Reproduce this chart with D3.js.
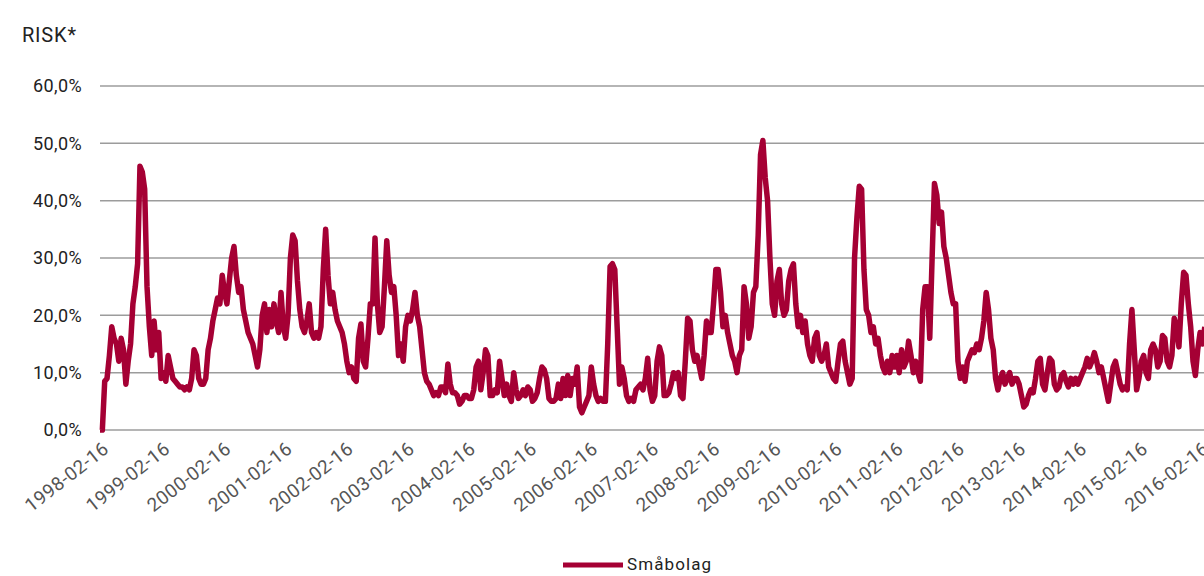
<!DOCTYPE html>
<html><head><meta charset="utf-8">
<script src="https://cdn.jsdelivr.net/npm/d3@7/dist/d3.min.js"></script>
<style>
body{margin:0;background:#fff;}
svg{display:block;font-family:Roboto,"Noto Sans",sans-serif;}
</style>
</head><body>
<svg id="chart" width="1204" height="576"></svg>
<script>
// ---- data (biweekly readings) ----
const seriesName = "Småbolag";
const yAxisTitle = "RISK*";
const startDate = "1998-02-16";
const pointsPerYear = 26;
const yTickValues = [0, 10, 20, 30, 40, 50, 60];
const xTickLabels = ["1998-02-16","1999-02-16","2000-02-16","2001-02-16","2002-02-16","2003-02-16",
  "2004-02-16","2005-02-16","2006-02-16","2007-02-16","2008-02-16","2009-02-16","2010-02-16",
  "2011-02-16","2012-02-16","2013-02-16","2014-02-16","2015-02-16","2016-02-16"];

const risk1998 = [0,0,8.5,9,13,18,16,15,12,16,14,8,12,15,22,25,29,46,45,42,25,18,13,19,14,17];
const risk1999 = [9,10,8.5,13,11,9,8.5,8,7.5,7.5,7,7.5,7,9,14,13,9,8,8,9,14,16,19,21,23,22];
const risk2000 = [27,24,22,26,30,32,27,24,25,21,19,17,16,15,13,11,14,20,22,17,21,18,22,19,17,24];
const risk2001 = [18,16,20,30,34,33,26,21,18,17,19,22,17,16,17,16,18,28,35,27,22,24,21,19,18,17];
const risk2002 = [15,12,10,11,9,8.5,16,18.5,12,11,16,22,22,33.5,22,17,18,25,33,27,24,25,20,13,15,12];
const risk2003 = [18,20,19,21,24,20,18,14,10,8.5,8,7,6,6.5,6,7.5,7.5,6.5,11.5,8,6.5,6.5,6,4.5,5,6];
const risk2004 = [6,5.5,5.5,7,11,12,7,10,14,13,6,6,7,6.5,12,9,6,8,6,5,10,7,5.5,6,7,6];
const risk2005 = [7.5,7,5,5.5,6.5,9,11,10.5,9,5.5,5,5,5.5,8,5.5,9,6,9.5,6,9,8,11,4,3,4,5];
const risk2006 = [6,11,8,6,5,5.5,5,5,15,28.5,29,28,18,8,11,9,6,5,5.5,5,7,7.5,8,7,9,12.5];
const risk2007 = [7,5,6,12,14.5,13,6,6,6.5,8,10,9,10,6,5.5,12,19.5,19,14,12,13,11,9,13,19,17];
const risk2008 = [17,22,28,28,24,18,20,17,15,13,12,10,13,14,25,22,16,18,24,25,34,48,50.5,44,40,30];
const risk2009 = [22,20,26,28,22,20,21,26,28,29,22,18,20,17,19,15,13,12,16,17,13,12,13,15,11,10];
const risk2010 = [9,8.5,12,15,15.5,12,10,8,9,30,37,42.5,42,28,21,20,17,18,15,16,13,11,10,12,10,13];
const risk2011 = [11,13,10,14,11,12,15.5,13,10,12,10,8.5,21,25,25,16,30,43,41,36,38,32,30,27,24,22];
const risk2012 = [22,12,9,11,8.5,12,13,14,13.5,15,14,16,19,24,21,16,14,9,7,9,10,8,9,10,8,9];
const risk2013 = [9,8,6,4,4.5,6,7,6.5,9,12,12.5,8,7,10,12.5,12,8,7,7.5,9.5,10,8.5,7.5,9,8,9];
const risk2014 = [8,9,10,11,12.5,11,12,13.5,12,10,11,9,7,5,8,11,12,10,8,7,7.5,7,15,21,14,7];
const risk2015 = [9,12,13,10,9,14,15,14,11,12,16.5,16,12,11,13,19.5,18,14.5,22,27.5,27,22,18,12,9.5,14];
const risk2016 = [17,15,18];

const riskValues = [].concat(risk1998,risk1999,risk2000,risk2001,risk2002,risk2003,risk2004,
  risk2005,risk2006,risk2007,risk2008,risk2009,risk2010,risk2011,risk2012,risk2013,risk2014,
  risk2015,risk2016);

// ---- chart ----
(function () {
const svg = d3.select("#chart");
const parse = d3.timeParse("%Y-%m-%d");
const t0 = parse(startDate);
const stepMs = 365.25 / pointsPerYear * 864e5;
const series = riskValues.map((v, i) => ({date: new Date(t0.getTime() + i * stepMs), value: v}));

const mLeft = 100, mRight = 1200, mTop = 86, mBottom = 430;
const x = d3.scaleTime().domain([parse(xTickLabels[0]), parse(xTickLabels[xTickLabels.length-1])]).range([mLeft, mRight]);
const y = d3.scaleLinear().domain([0, 60]).range([mBottom, mTop]);

// gridlines
svg.append("g").selectAll("line").data(yTickValues).join("line")
  .attr("x1", mLeft).attr("x2", 1204)
  .attr("y1", d => y(d)).attr("y2", d => y(d))
  .attr("stroke", "#9c9c9c").attr("stroke-width", 1.5);

// y labels
const yFmt = d => d3.format(".1f")(d).replace(".", ",") + "%";
svg.append("g").selectAll("text").data(yTickValues).join("text")
  .attr("x", 82).attr("y", d => y(d)).attr("dy", "0.35em")
  .attr("text-anchor", "end").attr("font-size", 18).attr("fill", "#222")
  .attr("letter-spacing", "0.4")
  .text(yFmt);

// title
svg.append("text").attr("x", 22).attr("y", 42).attr("font-size", 20).attr("fill", "#222")
  .attr("letter-spacing", "0.8")
  .text(yAxisTitle);

// x labels
svg.append("g").selectAll("text").data(xTickLabels).join("text")
  .attr("transform", d => `translate(${x(parse(d)) + 6},${446}) rotate(-38)`)
  .attr("text-anchor", "end").attr("dy", "0.35em")
  .attr("font-size", 19).attr("fill", "#555").attr("letter-spacing", "0.4")
  .text(d => d);

// line
const line = d3.line().x(d => x(d.date)).y(d => y(d.value));
svg.append("path").datum(series)
  .attr("d", line).attr("fill", "none")
  .attr("stroke", "#a50034").attr("stroke-width", 5.5)
  .attr("stroke-linejoin", "round").attr("stroke-linecap", "butt");

// legend
const lg = svg.append("g");
lg.append("line").attr("x1", 563).attr("x2", 623).attr("y1", 565).attr("y2", 565)
  .attr("stroke", "#a50034").attr("stroke-width", 5);
lg.append("text").attr("x", 627).attr("y", 565).attr("dy", "0.32em")
  .attr("font-size", 17).attr("fill", "#222").attr("letter-spacing", "1.1").text(seriesName);
})();
</script>
</body></html>
